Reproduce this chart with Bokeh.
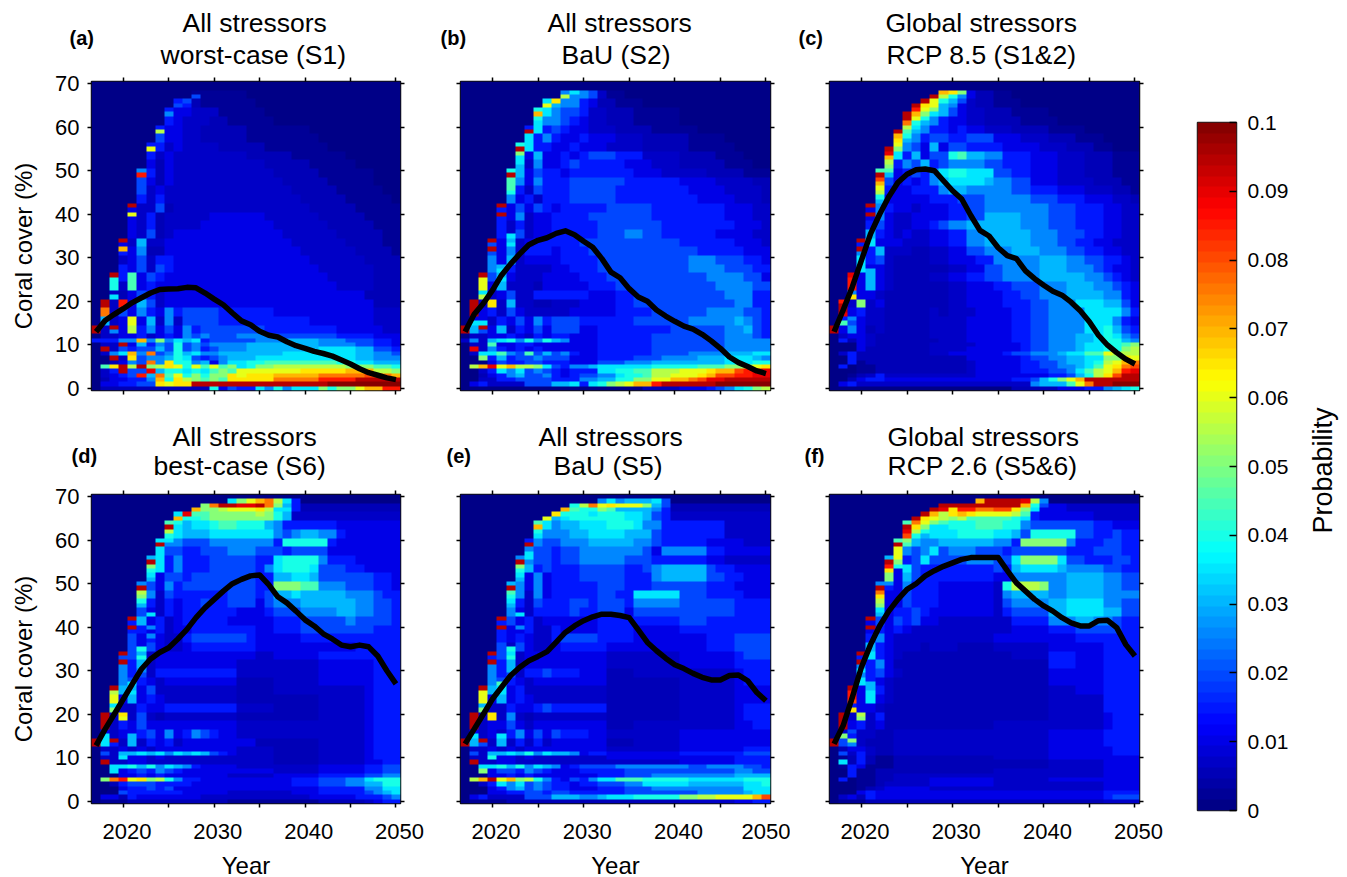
import numpy as np
from bokeh.plotting import figure
from bokeh.layouts import row, column
from bokeh.models import LinearAxis, FixedTicker, Range1d, Label, Title, LinearColorMapper
from bokeh.embed import file_html
from bokeh.resources import INLINE

YEARS = list(range(2017, 2051))
LINE_A = [13,15.6,17,18.3,19.7,20.8,21.9,22.7,22.8,22.9,23.2,23.1,21.9,20.5,19.2,17.3,15.5,14.6,13.1,12.2,11.8,10.7,9.8,9.2,8.5,8,7.4,6.5,5.6,4.5,3.6,3,2.4,2]
LINE_B = [13,17,19.5,22.5,26,28.6,30.9,33,34,34.6,35.6,36.2,35.3,33.8,32.4,29.8,26.7,25.4,22.9,21,20,18,16.6,15.4,14.3,13.6,12.4,10.9,9.2,7.2,5.9,5,4,3.4]
LINE_C = [13,18,23.3,29.4,35.5,40,44,47.3,49.2,50.2,50.4,50,47.7,45.4,43.5,39.7,36.3,35,32.3,30.5,29.8,27,25.2,23.7,22.3,21.4,19.8,17.8,15.3,12.2,9.9,8.2,6.7,5.6]
LINE_D = [12.8,16.6,20,23.5,27,30.4,32.7,34.2,35.3,37.3,39.5,42.2,44.5,46.4,48.3,50,51,51.8,52,49.8,47,45.6,43.7,41.7,40.3,38.5,37.3,35.9,35.5,35.9,35.5,33.4,30,27]
LINE_E = [13.2,16.6,20,23.5,26.2,28.9,30.8,32.3,33.3,34.4,36.6,38.8,40.3,41.5,42.4,43,43,42.7,42.2,39.4,36.5,34.6,32.9,31.4,30.5,29.4,28.5,27.9,27.9,28.9,29,27.7,25,23.1]
LINE_F = [13.2,17.4,23.9,30.8,36,40.3,43.7,46.4,48.7,50,51.8,53,54,54.8,55.6,56,56,56,56,53,50.2,48.3,46.4,44.9,43.7,42.2,41,40.3,40.3,41.5,41.6,39.9,36,33.4]

# run-length rows, top to bottom: pairs of covers 70-69 ... 14-13, then singles 12 ... 0
ROWS_A = ["a34","a11b6a17","a9f2c1b6a16","a8f1e2d3b5a15","a8f1e1d3c2b5a14","a7f1e2d2c5b7a10","a7g1e2d2c5b8a9","a6f2d1e1d4c5b7a8","a6f1d1e1d8c5b6a6","a6e1c1e1d1d9c5b5a5","a5h1f1c1e1d1d10c5b6a3","a5g1e1c1e1d1d11c5b5a3","a5g1d1e1d2d12c5b5a2","a5f1d1f1d2d13c5b5a1","a4e1d2g1c1d1d14c5b5","a4e1d1f1c1d2d3e6d6c5b4","a4e1d1f1c1d1d3e8d6c5b3","a4e1d1g1c1d1e12d6c5b2","a3e1d1i1d2e14d6c4b2","a3f1e1h1c2e15d6c4b1","a3d1e1g1d1f2e15d6c4","a3f1e1g1d1g1f1e16d6c3","a2k1f1l1e1g1f1e18d5c3","a2k1d1l1e1f1e20d4c3","a2d1c1e1g1f1d1e22c3","a1v1d1t1e1i1g1d1e23c3","a1r1d1g1e1h1f1e1h1f1g4f6e11d3","a1i1d1e1o1e1i1d1h1d1g4f10e7d3","v1d1v1e1n1f1h1e1g1e1h1f1g7f8e5d2",
"a1d2e2f1d1e1f1e1h1g1h1g3h4g7f4e3","f3h2q1h1m1h1j1i1j1f1g5h3i4h3g3f2e1","a1d2v1e1i1f1h1g1k1g1h1g1h4i8h4g2f2e1","a1v1d1g1f1g2i1g1k1g1h1f1g1h3i8j4i2g2f1","a1d1h1j1q1h1r1g1h1k1i1j1h2i7j8i2h2g1","a2v1d1p1g1h2i1k1j1g1f1g1h1i3j11i2h3","a2c1e1h1g1r1h1p1k2h1i1e1h1j2k2l8k2j2i3","a1l1p1v1n1v1m1n1p1o1k1o1l1o1l1m1j1k1m2n8m3l2k1","a1d1f1v1g2u1i1k2j1k1j1l1m1l1o7p5q3n2m1","a1d1e1f1g1t1i1r1l1o1k1m1k1m2p1o1p3q5r5s2r1q1","a1c1e2f2h1q1k1p1n1m1l1m1l1p5r5t4v5","a1e2f2g2p1o1p2v15w8","a1c12k1e1g1f2j1h1k1h1j3m1k1m2o1q2t2"]
SPOTS_A = [(2017,13,"v"),(2018,19,"v"),(2018,18,"r"),(2018,15,"i"),(2019,26,"v"),(2019,21,"j"),(2019,14,"v"),(2019,13,"h"),(2020,34,"v"),(2020,32,"q"),(2021,42,"v"),(2021,40,"o"),(2022,49,"t"),(2023,55,"o"),(2024,59,"n"),(2025,63,"h"),(2026,65,"g"),(2027,66,"g"),(2028,67,"g")]

ROWS_B = ["a34","a11h1j1h1g1d1b2a16","a9j1i1h1h1f1e1c2b3a14","a8k1j1h1g2f1d2c3b5a10","a8k1h1h1g1f1e1d2c3b5a10","a7f1j1f1g1f1e2d3c4b5a8","a7j1f1h1f1e2f1e3d3c5b4a5","a6k1j1f2e2f1e3d4c5b5a4","a6k1e1i1e2f1e1f1g3f3d4c4b3a3","a6i1d1h1e2f1g1f5e3d3c5b3a2","a5k1i1e1g1f2e1f7e3d5c4b3","a5l1h1e1h1f2f1g3g3f6e4d4c2","a5k1f1d1g1f3g2g3f8e4d4c1","a5h1e1f1d1f3g3g2f9e4d3c1","a4f1e1g1e1g1f1e1f5g3g2f8e3d2","a4f1e1h1d1e2f4g4g3f8e3d2","a4f1d1f1d1e2f5g3g3g1f8e3d1","a4f1d1g1d1e2f5g3h2g2f6e4d2","a3g1e1j1d1e1f5g4g5g2f6e3d1","a3g1e1h1d1f1f2e1f3g4g5g3f5e3","a3h1e1i1d1e4f4g5g5h3g3f2e1","a3h1i1f1d1d3e2f3g5g5h4g3f2","a2h1g1j1e1d3e4f3g5g6h4g2e1","a2o1e1i1d1d2c1e5f3g5g6h4g2","a2j1d1e1g1d2f6e3f2g5g5h3f2","a1v1d1o1d1i1d2c2d3e4f2g6g5h2f2","a1v1e1f1d1g1e1d2d3e5f4g6h4g2f1","a1e2d1f1e1g1e1h1f1g3f6g6h5i1h1g1f1","v1i1v1e1i1d1f1e1g1e1g3e2f8g6h2i1g1f1",
"a1d2e2f1e1d1f1e1f2e3f6g8h3g1f1","d1h1d1i1j1k1h1k1h1k1i1h1e3f6g8h3h2","a1d2l1e2f2e4e3f6g8h3h2","a1u1d1h1f1e1f1e1f1e6f6g8h3h2","a1d1j2l1h1g1l1g1i1g1h1f1e2f6g4h4i3j2","a2m1f1i1f1g2h1g3e3f4g3h4i3j3i1h1","a3e1g1f2g2f3e3g3h3i8j3k2","a1n1q1u1o1q1n2m1j1g1f1h2i1j6k5l3m2n1o1p1","a2d1f1j1h1j1g1h1g1f1e1f3j2k2l2n3o3p1q2s1t1u2","a2c1e1f1h1i1g2h1f1e1f1g2h2j1k2l1n2o3p1q1s2t2u2","a2d2f2g4f2f1h2i2k2m2o2q2r1s1u2v3","a1e1f1d4g3i2j1f1j1k1m1n1o1q2t1v6w6","a20c4e3f1g1h1j1k1m1n1"]
SPOTS_B = [(2017,13,"v"),(2018,19,"v"),(2018,18,"v"),(2018,15,"j"),(2019,26,"v"),(2019,25,"o"),(2019,24,"o"),(2019,21,"n"),(2019,15,"j"),(2019,14,"v"),(2019,13,"g"),(2020,34,"v"),(2020,32,"v"),(2020,31,"g"),(2020,20,"p"),(2020,19,"p"),(2021,42,"v"),(2021,40,"v"),(2021,27,"j"),(2021,26,"i"),(2022,49,"v"),(2022,47,"l"),(2022,46,"l"),(2022,35,"j"),(2022,34,"i"),(2023,55,"v"),(2023,54,"m"),(2023,53,"j"),(2023,52,"j"),(2024,59,"v"),(2024,58,"j"),(2024,57,"j"),(2025,63,"q"),(2025,62,"k"),(2025,61,"j"),(2026,65,"o"),(2026,64,"j"),(2027,66,"p"),(2027,65,"i"),(2028,67,"n"),(2028,66,"h"),(2029,68,"j"),(2029,67,"h"),(2030,68,"h"),(2031,68,"g"),(2032,68,"d")]

ROWS_C = ["a34","a12g1h1g1e1c2b2a14","a10h1j1i1g1e1d1c2b3a13","a9k2j1i1g1e1d2c3b4a10","a8j1j1i1h1f1e2d2c4b4a9","a8j1i1h1f2e1f1e2d3c4b4a6","a7j1i1h1f1g2f2g3e3d3c3b3a4","a7k1h1g1e1i1e1g2f2f2e4d3c3b2a3","a6h1j1f1i1e1g2k1l1i2h2f3e3d3c3b3","a6k1f1h1g1i1f1g1h2h2g2f3e3d3c3b3","a5l1i1e1f1g1f1h1j1k2j3g2f2e3d3c3b3","a5k1g1e1f1e1f1h1i1j2j2i1h2g2e3d4c3b2","a5l1f1e2f1f2h1i2h3h2g2f3e3d3c2b1","a5i1e5f1f2g2g1h3h2g3f3e3d2c1","a4e1h1f1e2d1e1e2f2g2h4h3g3f3e2d2","a4e1h1e1d2e2e2f2g2i4h3g3f3e2d2","a4f1g1e1d2e2f1g1h2i2i4h3g3f3e2d2","a4i1f1e1d1e1d2e2f2h2i5h3g3f2e2d2","a3f1j1e3d3e2f2h2i5h3g2f2e2d2","a3f2i1d1d2c2d2e2g2h3i3h3g2f2e2d2","a3j1f1g1d1c4d2e3f2h5i3h2g2f2e1d1","a3j1e2d1c6d2e2g2h4i3h3g1f1e2d1","a2f1e1i1e1d1c4d2e2f2g2h4i5h2g1f1e1d1","a2t1e1i1e1d1c6d2e3f2g3h3i3h2g1f1e1","a2h1e2d1c7d2e4f2g2h3i4h2f1e1","a1t1d1m1d1e1c7d2e4f3g2h3j3i2g1e1","a1u1e1f1d2c5d1c1d3e4f2g2h4j4h1f1","a1f1h1e1d2c5d4e5f2g2h4j3h1f1e1","v1e1h1e1c1d1c5d4e5f2g2h4j2k1i1g1f1",
"a1d1e2d1c6d4e5f2g2h3i2j1k1j1h1g1","a1f1c1e1d1c7d3e5f2g2h3i2j1k2i1h1","a3e1d1c6d5e5f1g2h3i1j2k2l1m1","a3e1c7d4e6f1g2h3i1j2k2m1n1","a1d1f1c8d2e6f1g2h3i1j2l2o1n1","a2f1c12e6f1g2h2i2j2m2p1o1","a2f1b1c11d1e5f2g2h1i2j1k1n1o1q1r1","a1d1a1b2c10d1e5f2g2h2i1j1l1o1p1r1s1","a3b2c10d1e5f3g2h1j1l1n1o1q1t1u1","a2b1c1d1f1d9d1e5e3f2g1i1k1n1p1s1v2","a2c1e1f2e14f2g1i1k1m1o1q1v2","a1e1f1d19h1i3l1o1r1v2w3","a20c5e3f2h1i1j1k1"]
SPOTS_C = [(2017,13,"v"),(2018,19,"v"),(2018,18,"v"),(2018,15,"l"),(2018,11,"f"),(2018,5,"f"),(2019,26,"u"),(2019,25,"t"),(2019,24,"t"),(2019,23,"t"),(2019,21,"p"),(2019,15,"g"),(2019,14,"h"),(2020,34,"v"),(2020,32,"v"),(2020,31,"h"),(2020,30,"j"),(2020,28,"j"),(2020,20,"m"),(2020,19,"m"),(2021,42,"v"),(2021,40,"v"),(2021,27,"i"),(2021,26,"i"),(2021,25,"i"),(2022,49,"v"),(2022,48,"s"),(2022,47,"q"),(2022,46,"o"),(2022,45,"n"),(2022,44,"k"),(2022,43,"i"),(2023,55,"v"),(2023,54,"u"),(2023,53,"q"),(2023,52,"n"),(2023,51,"m"),(2023,50,"l"),(2023,49,"i"),(2024,59,"v"),(2024,58,"q"),(2024,57,"p"),(2024,56,"o"),(2024,55,"m"),(2025,63,"v"),(2025,62,"v"),(2025,61,"r"),(2025,60,"n"),(2025,59,"l"),(2025,58,"k"),(2026,65,"v"),(2026,64,"t"),(2026,63,"q"),(2026,62,"o"),(2026,61,"k"),(2026,60,"j"),(2027,66,"v"),(2027,65,"p"),(2027,64,"o"),(2027,63,"m"),(2027,62,"k"),(2027,61,"i"),(2028,67,"v"),(2028,66,"o"),(2028,65,"o"),(2028,64,"m"),(2028,63,"j"),(2028,62,"h"),(2029,68,"q"),(2029,67,"n"),(2029,66,"k"),(2029,65,"i"),(2030,68,"p"),(2030,67,"k"),(2030,66,"i"),(2030,65,"h"),(2031,68,"m"),(2031,67,"h"),(2031,66,"g"),(2032,68,"e")]

ROWS_D = ["a34","a12k8j2f1c11","a9j1k2l1m7k1i1d11","a8l1j1i1j2k1l2k3i1h1f1f5e6","a8k1j1i3j4j3h1g1h1i2h2f1e6","a7j1h2g3h5h2f1k5f1e7","a7k1g2f2g3h3g3f1g1g3e8","a6i1j1f1h1f1f2g2g3f2j1k4h1f3e5","a6m1j1f1h1f1f2g5f1h1j1k3j1g3f2e4","a6i1e1g2f1g4g3f2i2j2i1g4g2f2e1","a5h1g1e1h1f1g5g3f2m3l2h3g3f2e1","a5n1h1d1g1f1f5g3f1g1i2j1i2i3h3g1f2","a5k1f1d1f1e1f2g1f2g3e1g1h3i2i4h2g2f1","a5g1e1d1f1e1f5f1e2e1f1g3h2h2i2h2g2f1","a4f1i1e1f1d1e1f5e3e2f3g2g3h1g2g2f1","a4f2e1f1d1e1e1f4f3e2f3g2g4g2f3","a4g1e1f1e1d2f1g5g1f1e2e3f2f4f2f3","a4g1e1g1e1d2e1f5f2e2e5e4f2f3","a3g2k1d1e1e2e6e2d2e5f4f2f3","a3g1f1i1d1e1e8d4d5e6f3","a3h1f1g1d1f1f8d4d5e6f3","a3h1g1f1e1d1e8c4d5e5e1f3","a2f1i1j1e1g1d1d8c4d10e1f3","a2o1e1i1e1f1e1d8c4c5d5e1f3","a2j1d2f1e2f8d4c5d5e1f3","a1v1d1o1d1g1d1c1d8c4c5d5e1f3","a1v1d1f1e1g1e2e8d4d10e1f3","a1e1d1e2f1g1e1h1e1f1h1g1f1e2d4d10e1f3","v1j1f1d1i1d1f1e1f1d1e8c7d5e1f3",
"a1d2e1d1e1d1e3e6d4c5d5e1f3","a1g1d1i2j1i1j1h1j1i1j1i1g1f1e1d4c5d5e1f3","a1d2j1e2d1e1d2d10c5d5e1f3","a1v1d2e2d1d3d10c5d5e2f2","a2j2k1i1k1h1j1i1h1f1e4d4d5e5f2g2","a2j1e1f1g1f1h1g1f1e2e8d5e5f2g2","a3e2f1e1f1e7d5e5f5g2h2","a1m1r1t1o1p1m1n1k1h1f2e10f3g3h2j1k3","a2c1f1g3f2f2e11f3g3h2i2k2","a3e1f2g1f1g1e1e12e3f3f2h2j2","a3g1f6e5d7e3f5g1h1i1j1","a1e2c1f1e5e2d12e5f3g1h1j2","a1b3c6c5b10c5d1e1f2"]
SPOTS_D = [(2017,13,"v"),(2018,19,"v"),(2018,18,"v"),(2018,15,"j"),(2018,11,"g"),(2018,9,"v"),(2018,5,"m"),(2019,26,"v"),(2019,25,"n"),(2019,24,"o"),(2019,21,"m"),(2019,14,"v"),(2019,13,"f"),(2019,8,"j"),(2019,7,"j"),(2019,5,"r"),(2020,34,"v"),(2020,32,"v"),(2020,31,"h"),(2020,27,"h"),(2020,20,"p"),(2020,19,"o"),(2020,11,"i"),(2020,10,"j"),(2020,5,"t"),(2021,42,"v"),(2021,40,"v"),(2021,27,"j"),(2021,26,"i"),(2021,15,"i"),(2022,49,"v"),(2022,48,"n"),(2022,47,"m"),(2022,46,"k"),(2022,45,"i"),(2022,35,"k"),(2022,34,"i"),(2022,32,"i"),(2022,30,"h"),(2023,55,"v"),(2023,54,"m"),(2023,53,"k"),(2023,52,"j"),(2023,51,"i"),(2023,43,"j"),(2023,40,"h"),(2023,38,"h"),(2024,59,"v"),(2024,58,"j"),(2024,57,"j"),(2025,63,"v"),(2025,62,"n"),(2025,61,"k"),(2025,60,"j"),(2026,65,"q"),(2026,64,"k"),(2027,66,"u"),(2027,65,"k"),(2028,67,"q"),(2028,66,"l"),(2029,68,"m"),(2029,67,"m"),(2030,68,"r"),(2030,67,"m"),(2031,68,"v"),(2031,67,"n"),(2032,69,"j"),(2032,68,"v"),(2032,67,"o"),(2033,69,"m"),(2033,68,"u"),(2033,67,"o"),(2034,69,"o"),(2034,68,"u"),(2034,67,"o"),(2034,66,"m"),(2035,69,"q"),(2035,68,"v"),(2035,67,"p"),(2035,66,"n"),(2036,69,"r"),(2036,68,"r"),(2036,67,"n"),(2037,69,"n"),(2037,68,"m"),(2038,69,"j"),(2038,68,"i"),(2039,69,"f"),(2039,68,"f")]

ROWS_E = ["a34","a12i9h1f1c11","a10i2k6j2i1g1f1d11","a8l1j1h1i2j3k3j1h2f1f6d5","a8j1h1h2i2j1j3i3g1f1f6d5","a7f1h1g2h3i5h2g1f1f4e4d3","a7j1g2f1g2h5h2g1e1h5f2e5","a6h2g2f1g2h5g3f1f5e2d5","a6k1i1f1g1f1f2g5f2g1h1i5g1f2e4","a6i1e1h1e1f1f2g5f3h1i1i4g2f2e3","a5i1h1e1h1e1f5g3f3g6f3e4","a5n1h1d1h1e1f5g2f1f1j5g3f3f1e3","a5k1f1d1g1f1f2g2f1g3f1h5g3g3f4","a5h1e1d1f2f2g1f2g3e1g5g3g3f4","a4f1g1e1f1d1e1e5f4f5g3f3f4","a4f1e2f1d2f1e4f4e5f6f4","a4f1e1f1e1d2f1g4f4e5e3f3g4","a4g1d1g1e1d2e1f5e3e5e3f3g4","a3f1g1k1d1e1e8d3d5e6f1g3","a3g1f1i1d1e1e8d3d5e6f4","a3h1f1g1d1f1f1g1f3e3c3d5d6e1f3","a3h1g1f1e1d1e8c8d6e1f3","a2g1i1j1e1f1d1d8c3c5d6e4","a2o1e1i1e1f1e1d8c8d6e4","a2i1d2f1e2f1g1f6c8d6e1f3","a1v1d1p1d1h1d1c1d8c8d6e1f3","a1v1d1e2g1e1d1e8c3d5d6e2f2","a1e1d1e1d1f1h1e1g1e1g1f3e2d8e6e4","v1i1f1d1i1d1f1d1f1d1e6c3d5e6e4",
"a1d2e1d1e1d1e9d8e6e1f3","a1g1d1i2j1i1k1h1j1i2h1e1f2e8f7g3","a1d2k1e2d1e1d8e8e6f4","a1v1d2e2d1d9d8e6f4","a2j2k1i1k1h1j1i1h1e1f1g4h2h6g2h4g2f2","a2m1e1g2f1h1g1f1e3f3f2g12h2g2","a3e2f1e1f1e7f3g3h3h6i4","a1n1q1v1o1q1m1n1k1h1f1e1g1f1h1j2l3k5j6k3","a2d1f1j1h1j1g1h1g1f2e1f2g3h2j5i6j2k1","a3e1f1h1i1g1h1g1f2e3f3g3h4h6j3","a3e2f2g2f1g2f1f5g3g5h4h1i1j2","a1e1f1d4g3i3h2i1j3k5m2n2o4q1s1","a1b4c5c6c8d6e2f2"]
SPOTS_E = [(2017,13,"v"),(2018,19,"v"),(2018,18,"v"),(2018,15,"j"),(2018,11,"g"),(2018,9,"v"),(2019,26,"v"),(2019,25,"o"),(2019,24,"o"),(2019,21,"m"),(2019,14,"v"),(2019,13,"g"),(2020,34,"v"),(2020,32,"v"),(2020,31,"h"),(2020,27,"h"),(2020,20,"p"),(2020,19,"p"),(2020,11,"i"),(2020,10,"k"),(2021,42,"v"),(2021,40,"v"),(2021,27,"l"),(2021,26,"j"),(2021,15,"j"),(2021,14,"i"),(2022,49,"v"),(2022,48,"l"),(2022,47,"k"),(2022,46,"j"),(2022,45,"i"),(2022,35,"k"),(2022,34,"j"),(2022,32,"i"),(2022,30,"i"),(2023,55,"v"),(2023,54,"m"),(2023,53,"k"),(2023,52,"j"),(2023,51,"i"),(2023,43,"j"),(2023,40,"h"),(2024,59,"v"),(2024,58,"h"),(2024,57,"j"),(2024,56,"j"),(2025,63,"q"),(2025,62,"k"),(2025,61,"j"),(2026,65,"o"),(2026,64,"j"),(2027,66,"p"),(2027,65,"i"),(2028,67,"q"),(2028,66,"k"),(2028,65,"j"),(2029,68,"k"),(2029,67,"l"),(2029,66,"k"),(2030,68,"n"),(2030,67,"k"),(2031,68,"r"),(2031,67,"k"),(2031,66,"j"),(2032,69,"h"),(2032,68,"o"),(2032,67,"m"),(2033,69,"j"),(2033,68,"p"),(2033,67,"l"),(2034,69,"h"),(2034,68,"o"),(2035,69,"i"),(2035,68,"o"),(2036,69,"i"),(2036,68,"o"),(2037,69,"i"),(2037,68,"m"),(2038,69,"j"),(2038,68,"i"),(2039,69,"g"),(2039,68,"g")]

ROWS_F = ["a34","a12j9h2e3d8","a10l10k1j1f1e6d5","a8l1k1j3k3l3k2h1g1g6f2e3","a8l1j1i1j3k4j2i1g1k5g2f2g1f2","a7l1j1i1h2i6h2f1m5h1f3g2f2","a7k1h1g1h1j1g1h3g3f1g1g5f3g3f2","a6i1h1f1g1j1g1g3h3g2j1m4j1g2f3g2f1","a6j1e1j1g1f2f6g1f1i1j4i1h4g2f2","a6g1e1i1g1f2f6e2h6i4h2g2","a5h1f1e1h1f3e6d1k1n3m1h2i4h2g2","a5m1e2g1f3e6d1h1i4h2i4h4","a5i1e2g1f3e6d1g1h4i2j4h2g2","a5h1e1f2g1f1e7d1f1g4i2j4i2g2","a4e1g1e1g1f1g1e2d6d2f4h3i2h2g1f2","a4e1f1e1f1e1d1d8d2e4f3g3g2f2","a4f1h1e1d3d8e2e4e3f5f2","a4i1f1e1d3c1d3c4d6e3e3f4","a3f1j1f1e1d1c10c2d4f3e3f4","a3g1f1h1e1c1c10c6f3e3f4","a3h1f1g1e1d1c16e6f4","a3j1f1e1d1c1c16e6f4","a2g1e1i1f1d1c1c16d3e3f4","a2t1e1j1e1d1c1c10c6d6f4","a2f1e2d1c2c10c6d6f4","a1v1d1e1d1f1c1c11c6d6e1f3","a1v1e1f1d1e1c2c10d12e1f3","a1d1g1d2c2d11d6e6f4","v1g1h1d1c3d11d6e6f4",
"a1c1e2d1c2d11d6e6e1f3","a1g1d1f1d1c2d11d6e6e1f3","a1b1c1f1c1b2c11d6e6e4","a1j1c1f1c1b2c11c6d6e4","a1b1e2b3c11c6d6e4","a2f1b2c2c11d12e4","a2f1b2c2d11d12e4","a1e1a1b2c2d4e7d6e6e4","a3b2c1d1d4e7d12e4","a3b1c1d1e1e4d7d12e4","a3e1f1e2e11e12f4","a1d1e1c1f1e2e11e12f1g3","a1b3c3c11c12d4"]
SPOTS_F = [(2017,13,"v"),(2018,19,"v"),(2018,18,"v"),(2018,15,"m"),(2018,11,"g"),(2018,9,"j"),(2018,5,"f"),(2019,26,"v"),(2019,25,"t"),(2019,24,"t"),(2019,23,"s"),(2019,21,"p"),(2019,14,"m"),(2019,15,"f"),(2019,8,"f"),(2019,7,"f"),(2020,34,"v"),(2020,32,"v"),(2020,31,"h"),(2020,30,"j"),(2020,20,"n"),(2020,19,"m"),(2021,42,"v"),(2021,40,"v"),(2021,27,"i"),(2021,26,"i"),(2021,25,"j"),(2021,24,"j"),(2022,49,"v"),(2022,48,"r"),(2022,47,"p"),(2022,46,"n"),(2022,45,"m"),(2022,44,"j"),(2022,43,"i"),(2023,55,"v"),(2023,54,"t"),(2023,53,"p"),(2023,52,"m"),(2023,51,"m"),(2023,50,"h"),(2024,59,"v"),(2024,58,"o"),(2024,57,"o"),(2024,56,"o"),(2024,55,"m"),(2024,54,"k"),(2025,63,"v"),(2025,62,"u"),(2025,61,"s"),(2025,60,"m"),(2025,59,"l"),(2026,65,"v"),(2026,64,"r"),(2026,63,"p"),(2026,62,"n"),(2026,61,"k"),(2027,66,"v"),(2027,65,"p"),(2027,64,"o"),(2027,63,"m"),(2027,62,"k"),(2028,67,"v"),(2028,66,"q"),(2028,65,"o"),(2028,64,"m"),(2029,68,"v"),(2029,67,"u"),(2029,66,"n"),(2029,65,"n"),(2029,64,"l"),(2030,68,"v"),(2030,67,"p"),(2030,66,"p"),(2030,65,"m"),(2031,68,"v"),(2031,67,"t"),(2031,66,"q"),(2031,65,"n"),(2032,68,"v"),(2032,67,"t"),(2032,66,"p"),(2033,69,"q"),(2033,68,"v"),(2033,67,"r"),(2033,66,"o"),(2034,69,"v"),(2034,68,"v"),(2034,67,"r"),(2034,66,"o"),(2035,69,"v"),(2035,68,"v"),(2035,67,"s"),(2035,66,"o"),(2036,69,"v"),(2036,68,"v"),(2036,67,"s"),(2036,66,"o"),(2037,69,"v"),(2037,68,"v"),(2037,67,"p"),(2037,66,"n"),(2038,69,"u"),(2038,68,"q"),(2038,67,"m"),(2038,66,"l"),(2039,69,"n"),(2039,68,"k"),(2039,67,"j"),(2040,69,"h"),(2040,68,"g")]

LEVELS = dict(zip("abcdefghijklmnopqrstuvw",[0,.0025,.005,.0075,.01,.015,.02,.025,.03,.035,.04,.045,.05,.055,.06,.065,.07,.075,.08,.085,.09,.095,.1]))
TITLES = {"a":("All stressors","worst-case (S1)"),"b":("All stressors","BaU (S2)"),"c":("Global stressors","RCP 8.5 (S1&2)"),
          "d":("All stressors","best-case (S6)"),"e":("All stressors","BaU (S5)"),"f":("Global stressors","RCP 2.6 (S5&6)")}
COLORBAR_TICKS = [0,.01,.02,.03,.04,.05,.06,.07,.08,.09,.1]

def jet(n=64):
    out=[]
    for i in range(n):
        t=(i+.5)/n
        r=np.clip(min(4*t-1.5,-4*t+4.5),0,1); g=np.clip(min(4*t-.5,-4*t+3.5),0,1); b=np.clip(min(4*t+.5,-4*t+2.5),0,1)
        out.append("#%02x%02x%02x"%(int(r*255),int(g*255),int(b*255)))
    return out
MAPPER = LinearColorMapper(palette=jet(), low=0, high=0.1)
FONT="Liberation Sans"

def runs(s):
    out=[];i=0
    while i<len(s):
        c=s[i];i+=1;j=i
        while j<len(s) and s[j].isdigit(): j+=1
        out+= [LEVELS[c]]*int(s[i:j]);i=j
    return (out+[out[-1]]*34)[:34]

def grid(rows,spots):
    arr=np.zeros((71,34))
    for k,s in enumerate(rows[:29]):
        v=70-2*k; arr[v]=runs(s); arr[v-1]=runs(s)
    for k,s in enumerate(rows[29:]):
        arr[12-k]=runs(s)
    for y,c,l in spots: arr[c,y-2017]=LEVELS[l]
    return arr

def title(text,offset,standoff,size="26.5px",style="normal"):
    return Title(text=text,align="left",offset=offset,standoff=standoff,text_font=FONT,text_font_size=size,text_font_style=style,text_color="black")

def panel(key,line,rows,spots,left,right,top,bottom,bottom_row,first,w,off1,off2,offl,stand):
    p=figure(frame_width=w,frame_height=309,x_range=Range1d(2016.5,2050.5),y_range=Range1d(-.5,70.5),
             toolbar_location=None,output_backend="svg",min_border_left=left,min_border_right=right,min_border_top=top,min_border_bottom=bottom,
             x_axis_location=None,y_axis_location=None)
    p.grid.visible=False
    p.outline_line_color="#111111"; p.outline_line_width=1.5
    p.image(image=[grid(rows,spots)],x=2016.5,y=-.5,dw=34,dh=71,color_mapper=MAPPER)
    p.line(YEARS,line,line_color="black",line_width=5.5,line_join="round")
    xt=[2020,2025,2030,2035,2040,2045,2050]; yt=list(range(0,71,10))
    for side in ("below","above"):
        a=LinearAxis(ticker=FixedTicker(ticks=xt),major_label_overrides={t:"" for t in xt},major_tick_in=0,major_tick_out=4,minor_tick_line_color=None,axis_line_color=None,major_tick_line_color="black",major_tick_line_width=1.5,major_label_standoff=0,major_label_text_font_size="1px")
        p.add_layout(a,side)
    for side in ("left","right"):
        a=LinearAxis(ticker=FixedTicker(ticks=yt),major_tick_in=0,major_tick_out=4,minor_tick_line_color=None,axis_line_color=None,major_tick_line_color="black",major_tick_line_width=1.5,
                     major_label_text_font=FONT,major_label_text_font_size="22px",major_label_text_color="black",major_label_standoff=8)
        if not (first and side=="left"):
            a.major_label_overrides={t:"" for t in yt}
        p.add_layout(a,side)
    if first:
        a=LinearAxis(ticker=FixedTicker(ticks=[]),minor_tick_line_color=None,major_tick_line_color=None,axis_line_color=None,
                     axis_label="Coral cover (%)\u00a0\u00a0\u00a0",axis_label_text_font=FONT,axis_label_text_font_size="24px",axis_label_text_font_style="normal",axis_label_text_color="black",axis_label_standoff=16)
        p.add_layout(a,"left")
    if bottom_row:
        p.extra_x_ranges["lab"]=Range1d(2016.1,2050.1)
        a=LinearAxis(x_range_name="lab",ticker=FixedTicker(ticks=[2020,2030,2040,2050]),major_tick_line_color=None,minor_tick_line_color=None,axis_line_color=None,major_tick_in=0,major_tick_out=0,
                     major_label_text_font=FONT,major_label_text_font_size="22px",major_label_text_color="black",major_label_standoff=16,
                     axis_label="Year",axis_label_text_font=FONT,axis_label_text_font_size="24px",axis_label_text_font_style="normal",axis_label_text_color="black",axis_label_standoff=10)
        p.add_layout(a,"below")
    p.add_layout(title(TITLES[key][1],off2,stand[0]),"above")
    p.add_layout(title("(%s)"%key,offl,stand[1],"20px","bold"),"above")
    p.add_layout(title(TITLES[key][0],off1,stand[2]),"above")
    return p

TOP_STAND=(15,-36,-14); LOW_STAND=(19,-54,-24)
a=panel("a",LINE_A,ROWS_A,SPOTS_A,91,25,81,30,False,True,309,91,69,-22,TOP_STAND)
b=panel("b",LINE_B,ROWS_B,SPOTS_B,35,20,81,30,False,False,310,87,101,-20,TOP_STAND)
c=panel("c",LINE_C,ROWS_C,SPOTS_C,39,51,81,30,False,False,310,56,57,-31,TOP_STAND)
d=panel("d",LINE_D,ROWS_D,SPOTS_D,91,25,74,74,True,True,309,81,62,-20,LOW_STAND)
e=panel("e",LINE_E,ROWS_E,SPOTS_E,35,20,74,74,True,False,310,78,93,-14,LOW_STAND)
f=panel("f",LINE_F,ROWS_F,SPOTS_F,39,51,74,74,True,False,310,58,58,-25,LOW_STAND)

cb=figure(frame_width=39,frame_height=688,x_range=Range1d(0,1),y_range=Range1d(0,.1),toolbar_location=None,output_backend="svg",
          min_border_left=7,min_border_right=64,min_border_top=122,min_border_bottom=67,x_axis_location=None,y_axis_location=None)
cb.grid.visible=False
cb.outline_line_color="#222222"; cb.outline_line_width=1.5
cb.image(image=[np.linspace(0,.1,64).reshape(64,1)],x=0,y=0,dw=1,dh=.1,color_mapper=MAPPER)
ax=LinearAxis(ticker=FixedTicker(ticks=COLORBAR_TICKS),major_tick_in=7,major_tick_out=0,minor_tick_line_color=None,axis_line_color=None,major_tick_line_color="black",major_tick_line_width=1.5,
              major_label_overrides={0:"0",.1:"0.1"},major_label_text_font=FONT,major_label_text_font_size="21px",major_label_text_color="black",major_label_standoff=11)
cb.add_layout(ax,"right")

pf=figure(frame_width=47,frame_height=688,x_range=Range1d(1300,1347),y_range=Range1d(810,122),toolbar_location=None,output_backend="svg",
          min_border_left=0,min_border_right=0,min_border_top=122,min_border_bottom=67,x_axis_location=None,y_axis_location=None)
pf.grid.visible=False
pf.outline_line_color=None
pf.add_layout(Label(x=1322,y=470,text="Probability",angle=np.pi/2,text_font=FONT,text_font_size="27px",text_color="black",text_align="center",text_baseline="middle"))

page=row(column(row(a,b,c),row(d,e,f)),cb,pf)
open("out.html","w").write(file_html(page,INLINE))
